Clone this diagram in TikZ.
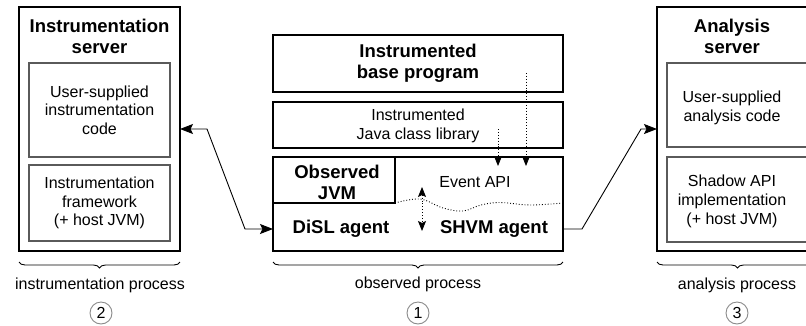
\documentclass[tikz,border=0pt]{standalone}
\usepackage{fontspec}
\setmainfont{Liberation Sans}
\usetikzlibrary{arrows.meta,decorations.pathreplacing,calc}
\definecolor{innergray}{HTML}{5A5A5A}
\definecolor{circgray}{HTML}{8A8A8A}
\begin{document}
\begin{tikzpicture}[x=1pt,y=-1pt,
  outerbox/.style={draw=black,line width=1.3pt,inner sep=0pt,outer sep=0pt},
  innerbox/.style={draw=innergray,line width=1.3pt,inner sep=0pt,outer sep=0pt,align=center,font=\fontsize{16}{18.5}\selectfont},
  cbox/.style={draw=black,line width=1.3pt,inner sep=0pt,outer sep=0pt},
  bt/.style={align=center,inner sep=0pt,font=\fontsize{18.5}{21}\selectfont\bfseries},
  rt/.style={align=center,inner sep=0pt,font=\fontsize{16}{19}\selectfont},
  numc/.style={circle,draw=circgray,line width=0.9pt,minimum size=22pt,inner sep=0pt,font=\fontsize{16}{19}\selectfont},
  conn/.style={line width=0.9pt,-{Stealth[length=13pt,width=10pt,inset=2.5pt]}},
  dconn/.style={line width=0.9pt,dotted,-{Stealth[length=10pt,width=8pt,inset=2pt]}},
  brc/.style={line width=0.9pt,decorate,decoration={brace,mirror,amplitude=6pt}}
]
\useasboundingbox (0,0) rectangle (806,325);
\clip (0,0) rectangle (806,325);

% left: instrumentation server
\node[outerbox,minimum width=161pt,minimum height=244pt] (isrv) at (99.5,129) {};
\node[bt] (isrvt) at (99.5,36) {Instrumentation\\server};
\node[innerbox,minimum width=141pt,minimum height=94pt] (icode) at (99.5,110) {User-supplied\\instrumentation\\code};
\node[innerbox,minimum width=141pt,minimum height=76pt] (ifw) at (99.5,203) {Instrumentation\\framework\\(+ host JVM)};

% center: observed process
\node[cbox,minimum width=290pt,minimum height=57pt] (base) at (418,63.5) {};
\node[bt] (baset) at (418,63) {Instrumented\\base program};
\node[cbox,minimum width=290pt,minimum height=46pt] (jcl) at (418,125) {};
\node[rt] (jclt) at (418,125.5) {Instrumented\\Java class library};
\node[cbox,minimum width=290pt,minimum height=94pt] (jvm) at (418,204) {};
\coordinate (div1) at (395,157);
\coordinate (div2) at (395,203);
\draw[line width=1.3pt] (div1) -- (div2) -- (div2 -| jvm.west);
\node[bt] (obs) at (337,182) {Observed\\JVM};
\node[rt] (evt) at (475,182) {Event API};
\node[bt] (disl) at (341,229) {DiSL agent};
\node[bt] (shvm) at (494,229) {SHVM agent};
\draw[line width=0.9pt,dotted] plot[smooth,tension=0.6] coordinates {(395,203) (420,199) (443,208) (463,211) (481,205) (500,202.5) (530,205) (563,203)};

% right: analysis server
\node[outerbox,minimum width=161pt,minimum height=244pt] (asrv) at (737.5,129) {};
\node[bt] (asrvt) at (732,36) {Analysis\\server};
\node[innerbox,minimum width=141pt,minimum height=84pt] (acode) at (737.5,105) {};
\node[rt] (acodet) at (732,107.5) {User-supplied\\analysis code};
\node[innerbox,minimum width=141pt,minimum height=85pt] (ashadow) at (737.5,199.5) {};
\node[rt] (ashadowt) at (732,201) {Shadow API\\implementation\\(+ host JVM)};

% connectors
\draw[conn,{Stealth[length=13pt,width=10pt,inset=2.5pt]}-{Stealth[length=13pt,width=10pt,inset=2.5pt]}]
  (isrv.east) -- ++(27,0) -- ($(jvm.west |- disl)+(-28,0)$) -- (jvm.west |- disl);
\draw[conn] (jvm.east |- shvm) -- ++(19,0) -- ($(asrv.west)+(-16,0)$) -- (asrv.west);

\coordinate (d1s) at (498,129);
\coordinate (d1e) at (498,166);
\coordinate (d2s) at (526,73);
\coordinate (d2e) at (526,166);
\draw[dconn] (d1s) -- (d1e);
\draw[dconn] (d2s) -- (d2e);
\coordinate (d3a) at (422,187);
\coordinate (d3b) at (422,231);
\draw[dconn,{Stealth[length=10pt,width=8pt,inset=2pt]}-{Stealth[length=10pt,width=8pt,inset=2pt]}] (d3a) -- (d3b);

% braces and labels
\draw[brc] (isrv.south west |- 0,262) -- (isrv.south east |- 0,262);
\draw[brc] (jvm.south west |- 0,262) -- (jvm.south east |- 0,262);
\draw[brc] (asrv.south west |- 0,262) -- (asrv.south east |- 0,262);
\node[rt] (lab2) at (100,285) {instrumentation process};
\node[rt] (lab1) at (418,284) {observed process};
\node[rt] (lab3) at (737,285) {analysis process};
\node[numc] (n2) at (101,313) {2};
\node[numc] (n1) at (418,313) {1};
\node[numc] (n3) at (737,313) {3};
\end{tikzpicture}
\end{document}
